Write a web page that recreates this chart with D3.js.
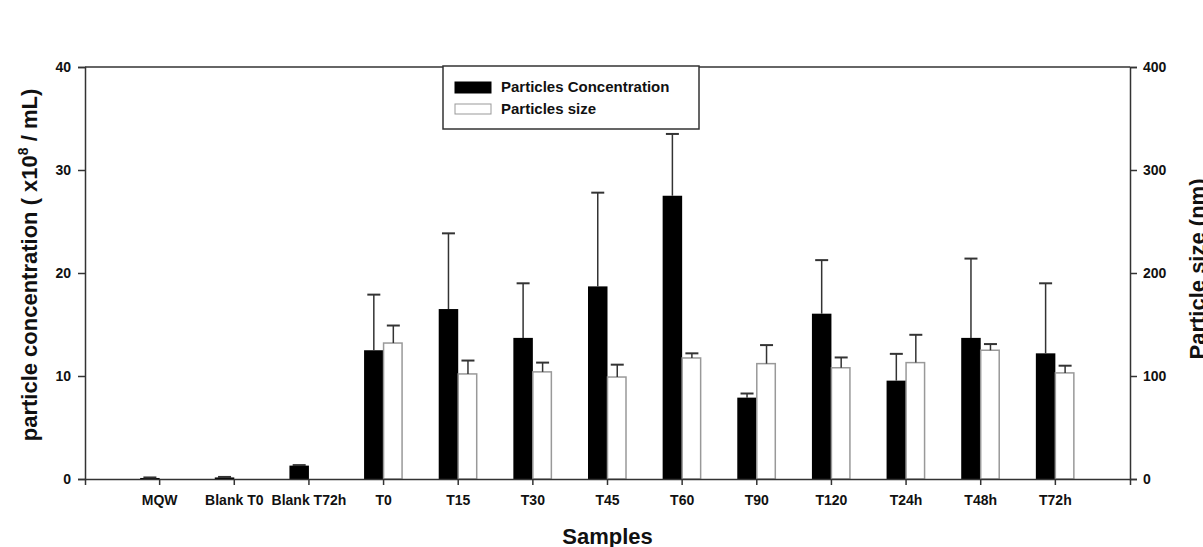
<!DOCTYPE html>
<html>
<head>
<meta charset="utf-8">
<script src="https://cdn.jsdelivr.net/npm/d3@7"></script>
<style>
  body { margin: 0; background: #ffffff; }
  text { font-family: "Liberation Sans", Arial, sans-serif; font-weight: bold; }
</style>
</head>
<body>
<div id="chart"></div>
<script>
// data
var samples = ["MQW", "Blank T0", "Blank T72h", "T0", "T15", "T30", "T45", "T60", "T90", "T120", "T24h", "T48h", "T72h"];
var concValues = [0.1, 0.15, 1.3, 12.5, 16.5, 13.7, 18.7, 27.5, 7.9, 16.05, 9.55, 13.7, 12.2];
var concErrors = [0.05, 0.05, 0.05, 5.4, 7.35, 5.3, 9.1, 6.0, 0.4, 5.2, 2.6, 7.7, 6.8];
var sizeValues = [null, null, null, 132, 102, 104, 99, 117.5, 112, 108, 113, 125, 103];
var sizeErrors = [null, null, null, 17, 13, 9, 12, 4.5, 18, 10, 27, 6, 7];
var leftTicks = [0, 10, 20, 30, 40];
var rightTicks = [0, 100, 200, 300, 400];
var legendNames = ["Particles Concentration", "Particles size"];

window.onload = function() {
  var data = samples.map(function(s, i) {
    return { name: s, conc: concValues[i], concErr: concErrors[i], size: sizeValues[i], sizeErr: sizeErrors[i] };
  });
  chart(data);
};

function chart(data) {
  var w = 1203;
  var h = 547;
  var margin = { top: 67, right: 73, bottom: 68, left: 85 };
  var innerWidth = w - margin.left - margin.right;
  var innerHeight = h - margin.top - margin.bottom;
  var axisColor = "#333";

  var svg = d3.select("#chart")
    .append("svg")
    .attr("width", w)
    .attr("height", h);

  var g = svg.append("g")
    .attr("transform", "translate(" + margin.left + "," + margin.top + ")");

  // scales
  var xScale = d3.scaleBand()
    .domain(samples)
    .range([0, innerWidth])
    .paddingInner(0)
    .paddingOuter(0.5);

  var yLeft = d3.scaleLinear().domain([0, 40]).range([innerHeight, 0]);
  var yRight = d3.scaleLinear().domain([0, 400]).range([innerHeight, 0]);

  var center = function(d) { return xScale(d.name) + xScale.bandwidth() / 2; };
  var barW = 19.5;

  // top frame line
  g.append("line")
    .attr("x1", 0).attr("x2", innerWidth)
    .attr("y1", 0).attr("y2", 0)
    .attr("stroke", axisColor)
    .attr("stroke-width", 1.5);

  // concentration bars
  g.append("g")
    .selectAll("rect")
    .data(data)
    .enter()
    .append("rect")
    .attr("x", function(d) { return center(d) - barW; })
    .attr("y", function(d) { return yLeft(d.conc); })
    .attr("width", barW)
    .attr("height", function(d) { return innerHeight - yLeft(d.conc); })
    .attr("fill", "#000");

  // size bars
  var sizeData = data.filter(function(d) { return d.size != null; });
  g.append("g")
    .selectAll("rect")
    .data(sizeData)
    .enter()
    .append("rect")
    .attr("x", function(d) { return center(d); })
    .attr("y", function(d) { return yRight(d.size); })
    .attr("width", barW - 1)
    .attr("height", function(d) { return innerHeight - yRight(d.size); })
    .attr("fill", "#fff")
    .attr("stroke", "#999")
    .attr("stroke-width", 1.5);

  // error bars (upper only)
  var capW = 13;
  var concErr = g.append("g").selectAll("g").data(data).enter().append("g");
  concErr.append("line")
    .attr("x1", function(d) { return center(d) - barW / 2; })
    .attr("x2", function(d) { return center(d) - barW / 2; })
    .attr("y1", function(d) { return yLeft(d.conc); })
    .attr("y2", function(d) { return yLeft(d.conc + d.concErr); })
    .attr("stroke", axisColor).attr("stroke-width", 1.5);
  concErr.append("line")
    .attr("x1", function(d) { return center(d) - barW / 2 - capW / 2; })
    .attr("x2", function(d) { return center(d) - barW / 2 + capW / 2; })
    .attr("y1", function(d) { return yLeft(d.conc + d.concErr); })
    .attr("y2", function(d) { return yLeft(d.conc + d.concErr); })
    .attr("stroke", axisColor).attr("stroke-width", 2);

  var sizeErr = g.append("g").selectAll("g").data(sizeData).enter().append("g");
  sizeErr.append("line")
    .attr("x1", function(d) { return center(d) + barW / 2; })
    .attr("x2", function(d) { return center(d) + barW / 2; })
    .attr("y1", function(d) { return yRight(d.size); })
    .attr("y2", function(d) { return yRight(d.size + d.sizeErr); })
    .attr("stroke", axisColor).attr("stroke-width", 1.5);
  sizeErr.append("line")
    .attr("x1", function(d) { return center(d) + barW / 2 - capW / 2; })
    .attr("x2", function(d) { return center(d) + barW / 2 + capW / 2; })
    .attr("y1", function(d) { return yRight(d.size + d.sizeErr); })
    .attr("y2", function(d) { return yRight(d.size + d.sizeErr); })
    .attr("stroke", axisColor).attr("stroke-width", 2);

  // axes
  var xAxis = g.append("g")
    .attr("transform", "translate(0," + innerHeight + ")")
    .call(d3.axisBottom(xScale).tickSizeOuter(0).tickSize(6).tickPadding(10));

  var leftAxis = g.append("g")
    .call(d3.axisLeft(yLeft).tickValues(leftTicks).tickSizeOuter(0).tickSize(7).tickPadding(7));

  var rightAxis = g.append("g")
    .attr("transform", "translate(" + innerWidth + ",0)")
    .call(d3.axisRight(yRight).tickValues(rightTicks).tickSizeOuter(0).tickSize(7).tickPadding(6));

  [xAxis, leftAxis, rightAxis].forEach(function(a) {
    a.select(".domain").attr("stroke", axisColor).attr("stroke-width", 1.5);
    a.selectAll(".tick line").attr("stroke", axisColor).attr("stroke-width", 1.5);
    a.selectAll(".tick text")
      .attr("fill", "#111")
      .style("font-size", "14px")
      .style("font-family", "'Liberation Sans', Arial, sans-serif")
      .style("font-weight", "bold");
  });

  // axis titles
  var leftTitle = svg.append("text")
    .attr("text-anchor", "middle")
    .attr("transform", "translate(37," + (margin.top + innerHeight / 2 - 8) + ")rotate(-90)")
    .attr("fill", "#111")
    .style("font-size", "22px");
  leftTitle.append("tspan").text("particle concentration ( x10");
  leftTitle.append("tspan").attr("dy", -9).style("font-size", "14px").text("8");
  leftTitle.append("tspan").attr("dy", 9).text(" / mL)");

  svg.append("text")
    .attr("text-anchor", "middle")
    .attr("transform", "translate(1205," + (margin.top + innerHeight / 2 - 4) + ")rotate(-90)")
    .attr("fill", "#111")
    .style("font-size", "22px")
    .text("Particle size (nm)");

  svg.append("text")
    .attr("x", margin.left + innerWidth / 2)
    .attr("y", 544)
    .attr("text-anchor", "middle")
    .attr("fill", "#111")
    .style("font-size", "22px")
    .text("Samples");

  // legend
  var legend = svg.append("g")
    .attr("transform", "translate(443,66)");

  legend.append("rect")
    .attr("width", 256)
    .attr("height", 63)
    .attr("fill", "#fff")
    .attr("stroke", axisColor)
    .attr("stroke-width", 1.5);

  var items = legend.selectAll(".item")
    .data(legendNames)
    .enter()
    .append("g")
    .attr("class", "item")
    .attr("transform", function(d, i) { return "translate(12," + (16 + i * 22) + ")"; });

  items.append("rect")
    .attr("width", 36)
    .attr("height", function(d, i) { return i == 0 ? 11 : 10; })
    .attr("fill", function(d, i) { return i == 0 ? "#000" : "#fff"; })
    .attr("stroke", function(d, i) { return i == 0 ? "#000" : "#999"; })
    .attr("stroke-width", 1);

  items.append("text")
    .attr("x", 46)
    .attr("y", 10)
    .attr("fill", "#111")
    .style("font-size", "15px")
    .text(function(d) { return d; });
}
</script>
</body>
</html>
